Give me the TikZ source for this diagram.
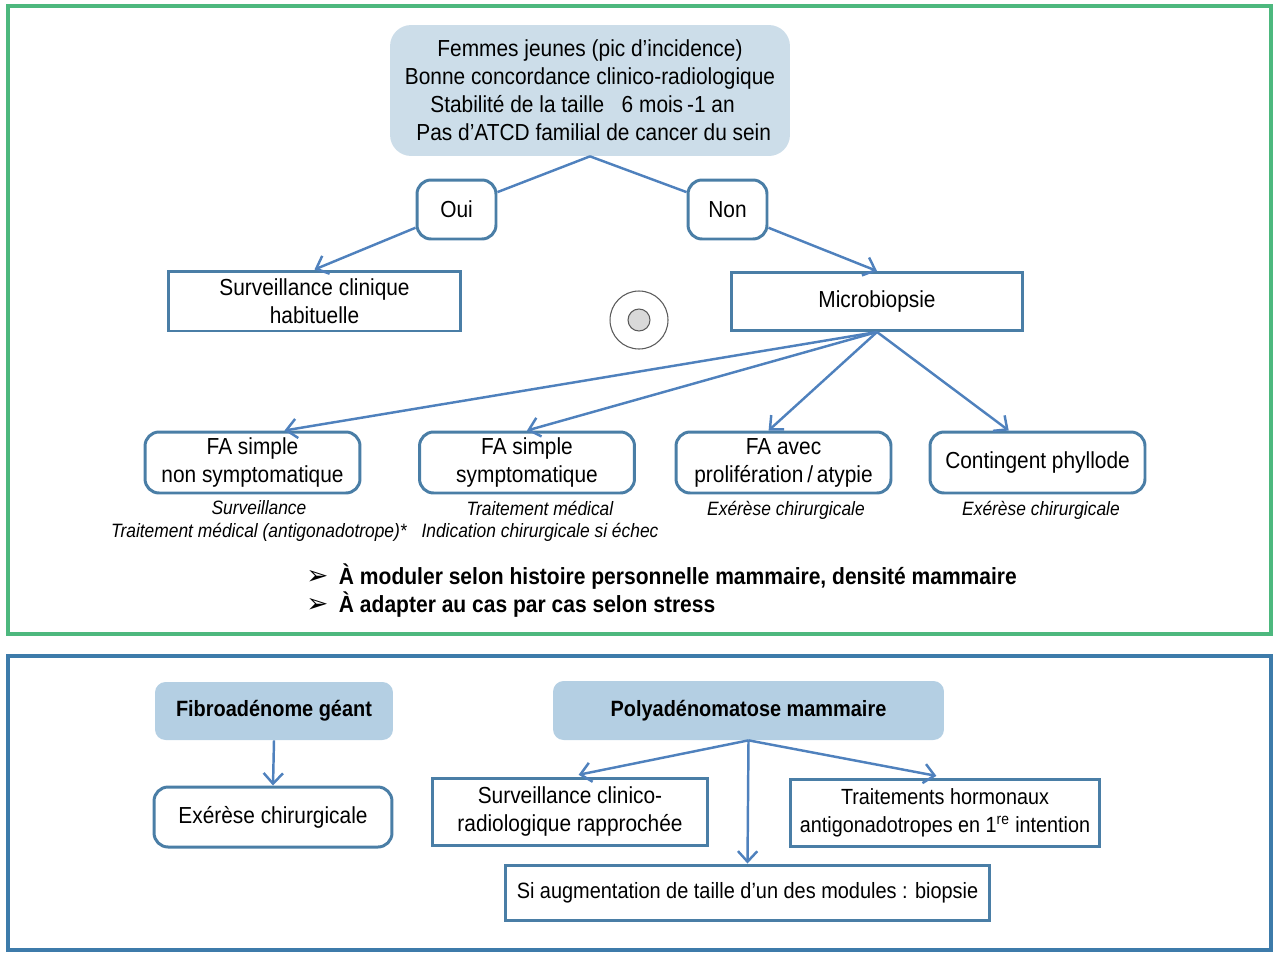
\documentclass[tikz,border=0pt]{standalone}
\usepackage{fontspec}
\setmainfont{Liberation Sans}[FakeStretch=0.9]
\newfontfamily\symfont{DejaVu Sans}
\usetikzlibrary{arrows.meta}

\definecolor{framegreen}{HTML}{4DB87E}
\definecolor{frameblue}{HTML}{3D7BAA}
\definecolor{boxline}{HTML}{4A7EA6}
\definecolor{linkblue}{HTML}{4F81BD}
\definecolor{headfill}{HTML}{B4CFE3}
\definecolor{critfill}{HTML}{CCDDE9}

\def\topframe{(8,6) rectangle (1271,634)}
\def\bottomframe{(8,656) rectangle (1271,950)}

\tikzset{
  txt/.style={font=\fontsize{13.2}{16}\selectfont, align=center, inner sep=0pt},
  rbox/.style={txt, draw=boxline, line width=1.7pt, rounded corners=8pt},
  sbox/.style={txt, draw=boxline, line width=1.7pt},
  hbox/.style={txt, fill=headfill, rounded corners=6pt, font=\fontsize{12.6}{16}\selectfont\bfseries},
  note/.style={align=center, inner sep=0pt, font=\fontsize{11}{12.6}\selectfont\itshape},
  link/.style={draw=linkblue, line width=1.4pt},
  arr/.style={link, -{Straight Barb[length=6pt,width=11pt]}},
}

\begin{document}
\begin{tikzpicture}[x=0.02cm, y=-0.02cm]
    \useasboundingbox (0,0) rectangle (1280,960);

    \draw[framegreen, line width=1.8pt] \topframe;
    \draw[frameblue, line width=1.8pt] \bottomframe;

    % decision tree
    \node (crit) [txt, fill=critfill, rounded corners=12pt, minimum width=8cm, minimum height=2.62cm] at (590,90.5)
      {Femmes jeunes (pic d’incidence)\\ Bonne concordance clinico-radiologique\\ \hspace*{-0.3cm}Stabilité de la taille~~~6 mois\,-1 an\\ \hspace*{0.15cm}Pas d’ATCD familial de cancer du sein};
    \node (oui) [rbox, minimum width=1.58cm, minimum height=1.18cm] at (456.5,209.5) {Oui};
    \node (non) [rbox, minimum width=1.58cm, minimum height=1.18cm] at (727.5,209.5) {Non};
    \node (surv) [sbox, minimum width=5.86cm, minimum height=1.2cm] at (314.5,301) {Surveillance clinique\\ habituelle};
    \node (micro) [sbox, minimum width=5.84cm, minimum height=1.16cm] at (877,301.5) {Microbiopsie};

    \node (fa1) [rbox, minimum width=4.3cm, minimum height=1.22cm] at (252.5,462.5) {FA simple\\ non symptomatique};
    \node (fa2) [rbox, minimum width=4.3cm, minimum height=1.22cm] at (527,462.5) {FA simple\\ symptomatique};
    \node (fa3) [rbox, minimum width=4.3cm, minimum height=1.22cm] at (783.5,462.5) {FA avec\\ prolifération\,/\,atypie};
    \node (phyl) [rbox, minimum width=4.3cm, minimum height=1.22cm] at (1037.5,462.5) {Contingent phyllode};

    \node (nfa1) [note] at (259,521) {Surveillance\\ Traitement médical (antigonadotrope)*};
    \node (nfa2) [note] at (540,521) {Traitement médical\\ Indication chirurgicale si échec};
    \node (nfa3) [note] at (786,510) {Exérèse chirurgicale};
    \node (nphyl) [note] at (1041,510) {Exérèse chirurgicale};

    \node (bul) [anchor=west, align=left, inner sep=0pt, font=\fontsize{13.3}{16}\selectfont\bfseries] at (306,591)
      {{\symfont\mdseries\fontsize{15}{16}\selectfont ➢}\hspace{6pt}À moduler selon histoire personnelle mammaire, densité mammaire\\
       {\symfont\mdseries\fontsize{15}{16}\selectfont ➢}\hspace{6pt}À adapter au cas par cas selon stress};

    \draw[gray!70!black, line width=0.6pt] (639,320) circle (0.58cm);
    \draw[gray!70!black, fill=gray!30, line width=0.6pt] (639,320) circle (0.22cm);

    \draw[link] (crit.south) -- (oui.23);
    \draw[link] (crit.south) -- (non.157);
    \draw[arr] (oui.204) -- (surv.north);
    \draw[arr] (non.336) -- (micro.north);
    \draw[arr] (micro.south) -- (fa1.45);
    \draw[arr] (micro.south) -- (fa2.north);
    \draw[arr] (micro.south) -- (fa3.115);
    \draw[arr] (micro.south) -- (phyl.132);

    % bottom panel
    \node (fib) [hbox, minimum width=4.76cm, minimum height=1.16cm] at (274,711) {Fibroadénome géant};
    \node (exe) [rbox, minimum width=4.76cm, minimum height=1.2cm] at (273,817) {Exérèse chirurgicale};
    \node (poly) [hbox, minimum width=7.82cm, minimum height=1.18cm] at (748.5,710.5) {Polyadénomatose mammaire};
    \node (survc) [sbox, minimum width=5.52cm, minimum height=1.34cm] at (570,811.5) {Surveillance clinico-\\ radiologique rapprochée};
    \node (horm) [sbox, font=\fontsize{12.5}{16}\selectfont, minimum width=6.2cm, minimum height=1.34cm] at (945,812.5) {Traitements hormonaux\\ antigonadotropes en 1\textsuperscript{re} intention};
    \node (siaug) [sbox, font=\fontsize{12.6}{16}\selectfont, minimum width=9.7cm, minimum height=1.1cm] at (747.5,892.5) {Si augmentation de taille d’un des modules : biopsie};

    \draw[arr] (fib.south) -- (exe.north);
    \draw[arr, shorten >=5pt] (poly.south) -- (survc.north);
    \draw[arr, shorten >=5pt] (poly.south) -- (horm.north);
    \draw[arr] (poly.south) -- (siaug.north);

\end{tikzpicture}
\end{document}
